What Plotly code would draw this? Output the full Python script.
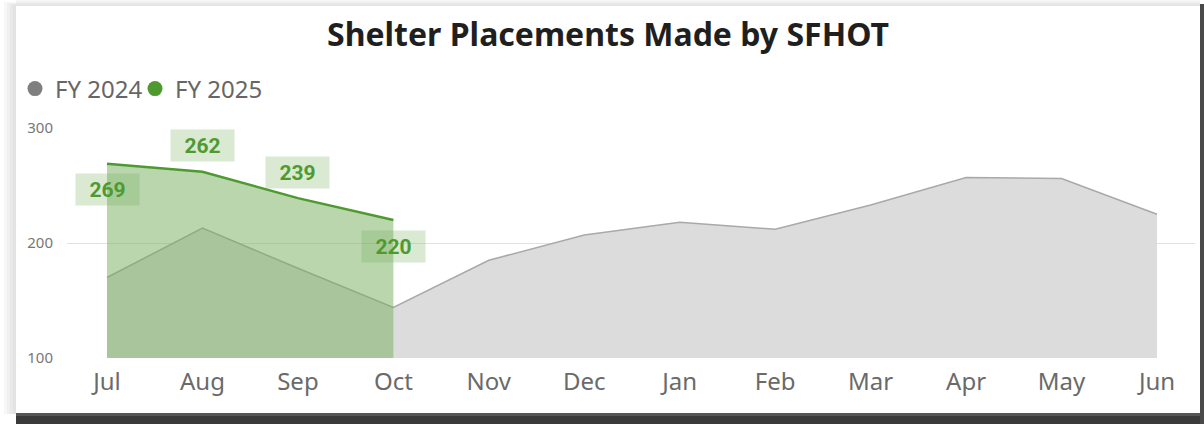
import plotly.graph_objects as go

months = ["Jul", "Aug", "Sep", "Oct", "Nov", "Dec", "Jan", "Feb", "Mar", "Apr", "May", "Jun"]
fy2024 = [170, 213, 178, 144, 185, 207, 218, 212, 233, 257, 256, 225]
fy2025 = [269, 262, 239, 220]
label_side = [-1, 1, 1, -1]  # -1 below point, 1 above point
y_ticks = [100, 200, 300]

GREEN = "#4f9a30"
GREEN_FILL = "rgba(118,175,94,0.51)"
GRAY_LINE = "#a9a9a9"
GRAY_FILL = "#dcdcdc"

x24 = list(range(len(fy2024)))
x25 = list(range(len(fy2025)))

fig = go.Figure()
fig.add_trace(go.Scatter(x=x24, y=fy2024, mode="lines", fill="tozeroy",
                         fillcolor=GRAY_FILL, line=dict(color=GRAY_LINE, width=1.5),
                         showlegend=False, hoverinfo="skip"))
fig.add_trace(go.Scatter(x=x25, y=fy2025, mode="lines", fill="tozeroy",
                         fillcolor=GREEN_FILL, line=dict(color=GREEN, width=2.5),
                         showlegend=False, hoverinfo="skip"))
# legend entries
fig.add_trace(go.Scatter(x=[None], y=[None], mode="markers", name="FY 2024",
                         marker=dict(color="#7f7f7f", size=15, symbol="circle")))
fig.add_trace(go.Scatter(x=[None], y=[None], mode="markers", name="FY 2025",
                         marker=dict(color="#4f9a30", size=15, symbol="circle")))
# invisible spacer entry so the last legend text is not clipped
fig.add_trace(go.Scatter(x=[None], y=[None], mode="markers", name=" ",
                         marker=dict(color="rgba(0,0,0,0)", size=1)))

for xi, v, s in zip(x25, fy2025, label_side):
    fig.add_annotation(x=xi, y=v, text=f"<b>{v}</b>", showarrow=False,
                       yshift=26 * s, xref="x", yref="y",
                       font=dict(family="Roboto", size=21, color=GREEN),
                       bgcolor="rgba(118,175,94,0.28)", width=57, height=25,
                       borderpad=3)

# card frame / shadow
def px_x(p):
    return (p - 67) / 1128

def px_y(p):
    return (358 - p) / 230

shapes = []
# soft left/top shadow
for i, c in enumerate(["#f7f7f7", "#f0f0f0", "#e9e9e9", "#e3e3e3"]):
    shapes.append(dict(type="rect", xref="paper", yref="paper",
                       x0=px_x(4 + i * 3), x1=px_x(16), y0=px_y(414), y1=px_y(2 + i),
                       fillcolor=c, line=dict(width=0), layer="below"))
    shapes.append(dict(type="rect", xref="paper", yref="paper",
                       x0=px_x(16), x1=px_x(1200), y0=px_y(6), y1=px_y(0 + i * 1.5),
                       fillcolor=c, line=dict(width=0), layer="below"))
# dark bottom/right shadow
shapes.append(dict(type="rect", xref="paper", yref="paper",
                   x0=px_x(16), x1=px_x(1204), y0=px_y(424), y1=px_y(413),
                   fillcolor="#3a3a3a", line=dict(width=0), layer="below"))
shapes.append(dict(type="rect", xref="paper", yref="paper",
                   x0=px_x(16), x1=px_x(1204), y0=px_y(416), y1=px_y(413),
                   fillcolor="#555555", line=dict(width=0), layer="below"))
shapes.append(dict(type="rect", xref="paper", yref="paper",
                   x0=px_x(1200), x1=px_x(1204), y0=px_y(424), y1=px_y(4),
                   fillcolor="#4a4a4a", line=dict(width=0), layer="below"))
# white card
shapes.append(dict(type="rect", xref="paper", yref="paper",
                   x0=px_x(16), x1=px_x(1200), y0=px_y(413), y1=px_y(6),
                   fillcolor="white", line=dict(width=0), layer="below"))

fig.update_layout(
    width=1204, height=424,
    margin=dict(l=67, r=9, t=128, b=66),
    paper_bgcolor="white", plot_bgcolor="rgba(0,0,0,0)",
    shapes=shapes,
    title=dict(text="<b>Shelter Placements Made by SFHOT</b>", x=(608 - 67) / 1128, xref="paper",
               xanchor="center", y=1 - 35 / 424, yref="container", yanchor="middle",
               font=dict(family="Noto Sans", size=32, color="#1f1f1f")),
    showlegend=True,
    legend=dict(orientation="h", x=px_x(15), xanchor="left", y=px_y(89), yanchor="middle",
                font=dict(family="Noto Sans", size=24, color="#666666"),
                itemwidth=30, entrywidth=75, bgcolor="rgba(0,0,0,0)", tracegroupgap=0),
    hovermode=False,
    xaxis=dict(range=[-0.419, 11.398], tickvals=x24, ticktext=months,
               showgrid=False, zeroline=False, showline=False, ticks="",
               tickfont=dict(family="Noto Sans", size=24, color="#6a6a6a"),
               ticklabelstandoff=7),
    yaxis=dict(range=[100, 300], tickvals=y_ticks, showgrid=True,
               gridcolor="#e2e2e2", gridwidth=1, zeroline=False, showline=False,
               ticks="", tickfont=dict(family="Noto Sans", size=15, color="#777777"),
               ticklabelstandoff=13),
)

fig.write_html("out.html", config={"displayModeBar": False},
               post_script="document.body.style.margin='0';")
